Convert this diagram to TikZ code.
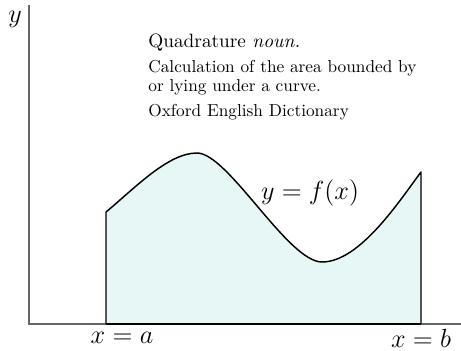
\documentclass[tikz,border=0pt]{standalone}
\begin{document}
\begin{tikzpicture}[x=0.5495pt,y=-0.5495pt,
  axisline/.style={draw=black!60, line width=0.6pt},
  curveline/.style={draw=black, line width=0.8pt, line join=round},
  basetxt/.style={anchor=base west, inner sep=0pt, font=\fontsize{9.5}{11}\selectfont},
  mathlbl/.style={inner sep=0pt}]
\useasboundingbox (0,0) rectangle (461,351);
% coordinates
\coordinate (O) at (29,324);
\coordinate (Ytop) at (29,5);
\coordinate (Xend) at (461,324);
\coordinate (A) at (106,324);
\coordinate (B) at (421,324);
\coordinate (FA) at (106,212);
\coordinate (Pk) at (197,153);
\coordinate (Mn) at (322,262);
\coordinate (FB) at (421,172);
% fill
\fill[fill={rgb,255:red,230;green,247;blue,245}] (A) -- (FA)
  .. controls (135,188) and (168,153) .. (Pk)
  .. controls (228,153) and (288,262) .. (Mn)
  .. controls (360,262) and (400,200) .. (FB) -- (B) -- cycle;
% axes
\draw[axisline] (Ytop) -- (O) -- (Xend);
% curve and sides
\draw[curveline] (A) -- (FA)
  .. controls (135,188) and (168,153) .. (Pk)
  .. controls (228,153) and (288,262) .. (Mn)
  .. controls (360,262) and (400,200) .. (FB) -- (B);
\draw[draw=black, line width=1.1pt] (A) -- (B);
% labels
\node[mathlbl, font=\Large] (ylab) at (15,19) {$y$};
\node[mathlbl, font=\Large] (flab) at (310,193) {$y=f(x)$};
\node[mathlbl, font=\Large] (alab) at (122,338) {$x=a$};
\node[mathlbl, font=\Large] (blab) at (421,338) {$x=b$};
\node[basetxt, font=\fontsize{10.6}{12}\selectfont] (t1) at (148,48) {Quadrature \emph{noun.}};
\node[basetxt] (t2) at (148,73) {Calculation of the area bounded by};
\node[basetxt] (t3) at (148,92) {or lying under a curve.};
\node[basetxt] (t4) at (148,117) {Oxford English Dictionary};
\end{tikzpicture}
\end{document}
